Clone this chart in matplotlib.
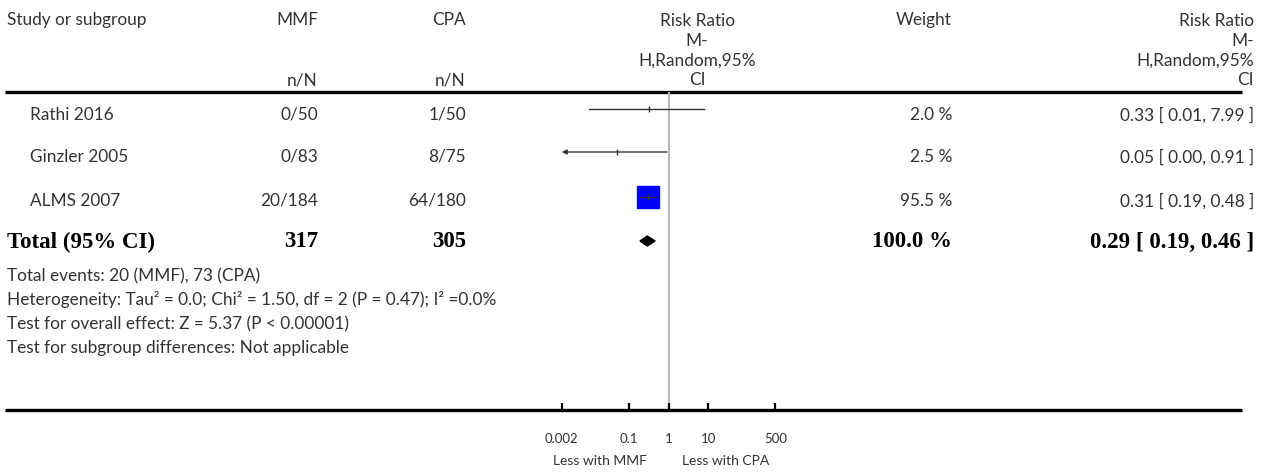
import matplotlib
matplotlib.use('Agg')
import matplotlib.pyplot as plt

# study rows
studies = ["Rathi 2016", "Ginzler 2005", "ALMS 2007"]
mmf_events = [0, 0, 20]
mmf_total = [50, 83, 184]
cpa_events = [1, 8, 64]
cpa_total = [50, 75, 180]
rr = [0.33, 0.05, 0.31]
ci_low = [0.01, 0.001, 0.19]
ci_high = [7.99, 0.91, 0.48]
weights = [2.0, 2.5, 95.5]

# pooled estimate
total_rr, total_low, total_high = 0.29, 0.19, 0.46
footer = [
    "Total events: 20 (MMF), 73 (CPA)",
    "Heterogeneity: Tau\u00b2 = 0.0; Chi\u00b2 = 1.50, df = 2 (P = 0.47); I\u00b2 =0.0%",
    "Test for overall effect: Z = 5.37 (P < 0.00001)",
    "Test for subgroup differences: Not applicable",
]
tick_vals = [0.002, 0.1, 1, 10, 500]
tick_labels = ["0.002", "0.1", "1", "10", "500"]

W, H = 1268, 477
SANS = ["Lato", "DejaVu Sans"]
SERIF = ["Liberation Serif", "DejaVu Serif"]
TXT = "#333333"
FS = 12.4
BFS = 16.5

fig = plt.figure(figsize=(W / 100, H / 100), dpi=100)
bg = fig.add_axes([0, 0, 1, 1])
bg.set_xlim(0, W)
bg.set_ylim(H, 0)
bg.axis("off")

def txt(x, y, s, ha="left", size=FS, family=SANS, weight="normal", color=TXT):
    bg.text(x, y, s, ha=ha, va="center", fontsize=size, family=family,
            weight=weight, color=color)

# header
x_mmf, x_cpa, x_plot, x_w, x_rr = 318, 466, 697, 952, 1254
txt(7, 20, "Study or subgroup")
txt(x_mmf, 20, "MMF", ha="right")
txt(x_cpa, 20, "CPA", ha="right")
txt(x_mmf, 80, "n/N", ha="right")
txt(x_cpa, 80, "n/N", ha="right")
txt(x_w, 20, "Weight", ha="right")
for i, line in enumerate(["Risk Ratio", "M-", "H,Random,95%", "CI"]):
    txt(x_plot, 21 + i * 19.7, line, ha="center")
    txt(x_rr, 21 + i * 19.7, line, ha="right")

bg.plot([5, 1242], [93, 93], color="black", lw=2.4, solid_capstyle="butt")
bg.plot([5, 1242], [411, 411], color="black", lw=2.4, solid_capstyle="butt")

# study rows
row_y = [115, 157, 201]
for i, name in enumerate(studies):
    y = row_y[i]
    txt(30, y, name)
    txt(x_mmf, y, f"{mmf_events[i]}/{mmf_total[i]}", ha="right")
    txt(x_cpa, y, f"{cpa_events[i]}/{cpa_total[i]}", ha="right")
    txt(x_w, y, f"{weights[i]:.1f} %", ha="right")
    txt(x_rr, y, f"{rr[i]:.2f} [ {ci_low[i]:.2f}, {ci_high[i]:.2f} ]", ha="right")

# total row
ty = 242
bold = dict(size=BFS, family=SERIF, weight="bold", color="black")
txt(7, ty, "Total (95% CI)", **bold)
txt(x_mmf, ty, str(sum(mmf_total)), ha="right", **bold)
txt(x_cpa, ty, str(sum(cpa_total)), ha="right", **bold)
txt(x_w, ty, f"{sum(weights):.1f} %", ha="right", **bold)
txt(x_rr, ty, f"{total_rr:.2f} [ {total_low:.2f}, {total_high:.2f} ]", ha="right", **bold)

for i, line in enumerate(footer):
    txt(7, 276 + i * 24, line)

# forest panel (log scale)
x0, x1, ytop, ybot = 561.7, 775.3, 93, 411
ax = fig.add_axes([x0 / W, 1 - ybot / H, (x1 - x0) / W, (ybot - ytop) / H])
ax.set_xscale("log")
ax.set_xlim(tick_vals[0], tick_vals[-1])
ax.set_ylim(ybot, ytop)
ax.set_frame_on(False)
ax.patch.set_alpha(0)
ax.axvline(1, color="#b8b8b8", lw=1.5, zorder=1)

mark_y = [110, 153, 198]
wmax = max(weights)
for i in range(len(studies)):
    y = mark_y[i]
    lo = max(ci_low[i], tick_vals[0])
    hi = min(ci_high[i], tick_vals[-1])
    side = 16 * (weights[i] / wmax) ** 0.5
    if weights[i] > 10:
        ax.plot(rr[i], y, marker="s", ms=side, color="#0000ff", mec="#0000ff", zorder=2)
    if ci_low[i] < tick_vals[0]:
        ax.annotate("", xy=(lo, y), xytext=(hi, y),
                    arrowprops=dict(arrowstyle="-|>", lw=1, color="#333333",
                                    mutation_scale=7, shrinkA=0, shrinkB=0), zorder=3)
    else:
        ax.plot([lo, hi], [y, y], color="#333333", lw=1, zorder=3)
    ax.plot(rr[i], y, marker="|", ms=4, color="#333333", mew=1, zorder=3)

ax.fill([total_low, total_rr, total_high, total_rr], [ty, ty - 5, ty, ty + 5],
        color="black", zorder=3)

ax.set_xticks(tick_vals)
ax.set_xticklabels(tick_labels)
ax.minorticks_off()
ax.set_yticks([])
ax.tick_params(axis="x", direction="in", length=5, width=1.6, pad=16,
               labelsize=9.5, labelcolor=TXT, color="black")
for lab in ax.get_xticklabels():
    lab.set_family(SANS)

txt(600, 461, "Less with MMF", ha="center", size=10)
txt(726, 461, "Less with CPA", ha="center", size=10)

fig.savefig("out.png", dpi=100)
